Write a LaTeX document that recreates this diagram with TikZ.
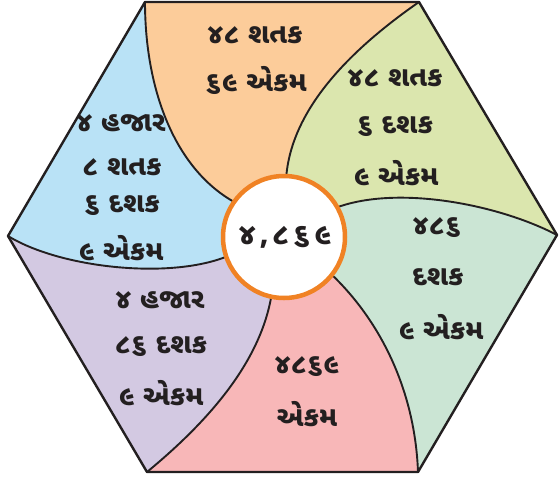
\documentclass[tikz,border=0pt]{standalone}
\usepackage{fontspec}
\newfontfamily\guj[Script=Gujarati]{Noto Sans Gujarati UI}
\definecolor{cOrange}{HTML}{FCCC9A}
\definecolor{cBlue}{HTML}{B9E2F6}
\definecolor{cGreen}{HTML}{DBE6AE}
\definecolor{cTeal}{HTML}{CBE5D4}
\definecolor{cPink}{HTML}{F8B7B8}
\definecolor{cPurple}{HTML}{D3C9E2}
\definecolor{cRing}{HTML}{F08224}
\definecolor{cInk}{HTML}{231F20}
\begin{document}
\begin{tikzpicture}[x=1pt,y=-1pt,
  hexedge/.style={line width=2.4pt, draw=cInk, line join=round},
  divider/.style={line width=1.9pt, draw=cInk},
  lbl/.style={font=\guj\bfseries\fontsize{28}{28}\selectfont, text=cInk, inner sep=0pt, anchor=center}]
\useasboundingbox (0,0) rectangle (559,482);
\coordinate (V1) at (145,2);
\coordinate (V2) at (419,2);
\coordinate (V3) at (557,235);
\coordinate (V4) at (418,472);
\coordinate (V5) at (147,472);
\coordinate (V6) at (8,236);
\coordinate (O) at (284,237);
\coordinate (C1) at (236,203);
\coordinate (C2) at (286,180);
\coordinate (C3) at (338,207);
\coordinate (C4) at (330,273);
\coordinate (C5) at (272,292);
\coordinate (C6) at (228,256);
% regions
\fill[cOrange] (V1) -- (V2) .. controls (350,50) and (290,110) .. (C2) -- (O) -- (C1) .. controls (175,170) and (145,90) .. (V1) -- cycle;
\fill[cGreen] (V2) -- (V3) .. controls (500,205) and (400,185) .. (C3) -- (O) -- (C2) .. controls (290,110) and (350,50) .. (V2) -- cycle;
\fill[cTeal] (V3) -- (V4) .. controls (415,390) and (380,320) .. (C4) -- (O) -- (C3) .. controls (400,185) and (500,205) .. (V3) -- cycle;
\fill[cPink] (V4) -- (V5) .. controls (210,420) and (262,360) .. (C5) -- (O) -- (C4) .. controls (380,320) and (415,390) .. (V4) -- cycle;
\fill[cPurple] (V5) -- (V6) .. controls (60,268) and (170,280) .. (C6) -- (O) -- (C5) .. controls (262,360) and (210,420) .. (V5) -- cycle;
\fill[cBlue] (V6) -- (V1) .. controls (145,90) and (175,170) .. (C1) -- (O) -- (C6) .. controls (170,280) and (60,268) .. (V6) -- cycle;
% dividers
\draw[divider] (V1) .. controls (145,90) and (175,170) .. (C1);
\draw[divider] (V2) .. controls (350,50) and (290,110) .. (C2);
\draw[divider] (V3) .. controls (500,205) and (400,185) .. (C3);
\draw[divider] (V4) .. controls (415,390) and (380,320) .. (C4);
\draw[divider] (V5) .. controls (210,420) and (262,360) .. (C5);
\draw[divider] (V6) .. controls (60,268) and (170,280) .. (C6);
% hexagon
\draw[hexedge] (V1) -- (V2) -- (V3) -- (V4) -- (V5) -- (V6) -- cycle;
% centre
\node[circle, draw=cRing, line width=4.5pt, fill=white, minimum size=122pt, inner sep=0pt] (ring) at (O) {};
\node[lbl, font=\guj\bfseries\fontsize{30}{30}\selectfont\addfontfeature{LetterSpace=12}] (num) at (285,237) {૪,૮૬૯};
% orange
\node[lbl] (o1) at (255,35) {૪૮ શતક};
\node[lbl] (o2) at (256,80) {૬૯ એકમ};
% blue
\node[lbl] (b1) at (121,123) {૪ હજાર};
\node[lbl] (b2) at (122,167) {૮ શતક};
\node[lbl] (b3) at (122,206) {૬ દશક};
\node[lbl] (b4) at (121,248) {૯ એકમ};
% green
\node[lbl] (g1) at (395,78) {૪૮ શતક};
\node[lbl] (g2) at (395,127) {૬ દશક};
\node[lbl] (g3) at (396,173) {૯ એકમ};
% teal
\node[lbl] (t1) at (437,228) {૪૮૬};
\node[lbl] (t2) at (438,277) {દશક};
\node[lbl] (t3) at (441,327) {૯ એકમ};
% pink
\node[lbl] (p1) at (307,367) {૪૮૬૯};
\node[lbl] (p2) at (307,414) {એકમ};
% purple
\node[lbl] (u1) at (160,300) {૪ હજાર};
\node[lbl] (u2) at (161,347) {૮૬ દશક};
\node[lbl] (u3) at (161,393) {૯ એકમ};
\end{tikzpicture}
\end{document}
